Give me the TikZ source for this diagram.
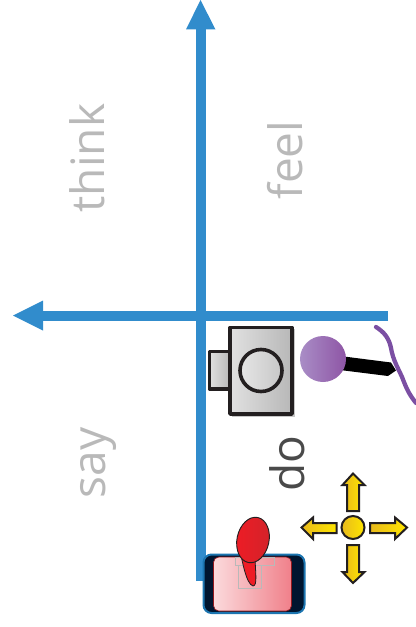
\documentclass[tikz,border=0pt]{standalone}
\usepackage{fontspec}
\setmainfont{Open Sans}
\definecolor{axisblue}{HTML}{318CCC}
\definecolor{labelgray}{HTML}{B9B9B9}
\definecolor{labeldark}{HTML}{4A4A4A}
\definecolor{framedark}{HTML}{231F20}
\definecolor{purp}{HTML}{7B4FA3}
\definecolor{ballL}{HTML}{A98DC6}
\definecolor{ballR}{HTML}{8E55A5}
\definecolor{navy}{HTML}{00152F}
\definecolor{rimblue}{HTML}{1C75B0}
\definecolor{pinkL}{HTML}{FBDADC}
\definecolor{pinkR}{HTML}{F0808A}
\definecolor{redL}{HTML}{EE1C25}
\definecolor{redR}{HTML}{D2232A}
\definecolor{yelL}{HTML}{FFE600}
\definecolor{yelD}{HTML}{E8B91C}
\tikzset{
  x=0.75pt,y=-0.75pt,
  axisline/.style={draw=axisblue,line width=7.5pt,line cap=butt},
  axishead/.style={fill=axisblue,draw=none},
  lab/.style={rotate=90,font=\fontsize{34.5}{34.5}\selectfont,text=labelgray,inner sep=0pt},
  grayface/.style={left color=white!88!black,right color=white!72!black,draw=framedark,line width=2.7pt,line join=round},
  yarrow/.style={draw=framedark,line width=1.5pt,line join=miter,left color=yelD,right color=yelL},
  ghost/.style={draw=gray!55,line width=0.4pt},
}
\begin{document}
\begin{tikzpicture}
\useasboundingbox (0,0) rectangle (416,627);
% axes
\draw[axisline] (200.5,581) -- (200.5,28);
\fill[axishead] (200.5,0) -- (215.5,29.5) -- (186,29.5) -- cycle;
\draw[axisline] (388,315.5) -- (42,315.5);
\fill[axishead] (13,315.5) -- (43,300.5) -- (43,330.5) -- cycle;
% labels
\node[lab] (think) at (87.5,158) {think};
\node[lab] (feel) at (285.5,160) {feel};
\node[lab] (say) at (98,463) {say};
\node[lab,text=labeldark] (do) at (287,464) {do};
% camera
\fill[black!22] (232,329) rectangle (294.5,416.5);
\draw[grayface] (209.5,351.5) rectangle (230,389);
\draw[grayface] (230,327.5) rectangle (292,414);
\draw[framedark,line width=2.7pt,left color=white!90!black,right color=white!78!black] (261,370.5) circle[radius=21];
% purple ball and stem
\fill[black] (340,356) -- (391,362.5) -- (396,370.5) -- (388,376) -- (340,370) -- cycle;
\draw[purp,line width=3.2pt,line cap=round] (376,327) .. controls (384,332) and (389,338) .. (391,348) .. controls (393,360) and (398,368) .. (402,377) .. controls (406,387) and (408,393) .. (416,403);
\shade[left color=ballL,right color=ballR] (323,359) circle[radius=23];
% tablet
\draw[rimblue,fill=navy,line width=1.5pt,rounded corners=6pt] (203.5,554.5) rectangle (304.5,613);
\draw[redR!70!black,line width=0.5pt,left color=pinkL,right color=pinkR,rounded corners=4pt] (213.5,557) rectangle (291.5,611);
\draw[ghost] (235,557) rectangle (274,565);
\draw[ghost] (238,565) rectangle (261,588);
% pointer
\draw[framedark,line width=0.6pt,fill=redL] (239,545) .. controls (242,560) and (246,584) .. (253,586) .. controls (258,586) and (255,570) .. (255,555) -- cycle;
\draw[framedark,line width=0.7pt,left color=redL,right color=redR,rotate around={-12:(253,540)}] (253,540) ellipse[x radius=16,y radius=23];
% direction cross
\draw[yarrow] (347,511) -- (347,485) -- (342.5,485) -- (353,473.5) -- (364.5,485) -- (359,485) -- (359,511) -- cycle;
\draw[yarrow] (347,545) -- (347,572) -- (342.5,572) -- (353,583) -- (364.5,572) -- (359,572) -- (359,545) -- cycle;
\draw[yarrow] (336.5,523) -- (313,523) -- (313,517.5) -- (301.5,527.5) -- (313,539) -- (313,533) -- (336.5,533) -- cycle;
\draw[yarrow] (370,523) -- (395,523) -- (395,517.5) -- (407,527.5) -- (395,539) -- (395,533) -- (370,533) -- cycle;
\draw[yarrow] (353,527.5) circle[radius=11.5];
\end{tikzpicture}
\end{document}
